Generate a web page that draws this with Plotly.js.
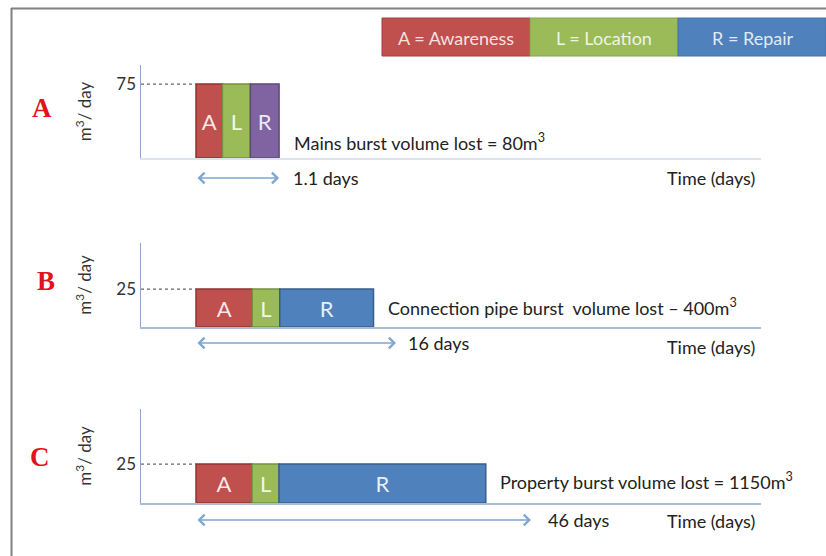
<!DOCTYPE html>
<html>
<head>
<meta charset="utf-8">
<script src="https://cdn.plot.ly/plotly-3.0.1.min.js"></script>
<style>html,body{margin:0;padding:0;background:#fff;}#chart{width:826px;height:556px;}</style>
</head>
<body>
<div id="chart"></div>
<script>
// ---- data ----
const panels = ["A", "B", "C"];
const phases = ["A", "L", "R"];
const phaseNames = ["Awareness", "Location", "Repair"];
const rates = [75, 25, 25];                 // m3/day
const durA = [0.35, 0.37, 0.38];            // days (schematic) panel A
const durB = [4.5, 2.2, 7.5];               // panel B
const durC = [7.7, 3.7, 28.4];              // panel C
const totalDays = [1.1, 16, 46];
const volumeLost = [80, 400, 1150];
const burstTypes = ["Mains burst volume lost = ", "Connection pipe burst  volume lost \u2013 ", "Property burst volume lost = "];

// ---- helpers ----
const W = 826, H = 556;
const px = x => x / W;
const py = y => 1 - y / H;
const font = "Lato, 'Open Sans', sans-serif";

const phaseColors = [["#c0504d", "#9bbb59", "#8064a2"], ["#c0504d", "#9bbb59", "#4f81bd"], ["#c0504d", "#9bbb59", "#4f81bd"]];
const phaseLines = [["#8e3533", "#76913f", "#5e4878"], ["#8e3533", "#76913f", "#385d8a"], ["#8e3533", "#76913f", "#385d8a"]];
const durs = [durA, durB, durC];
const xRanges = [[-0.728, 7.48], [-4.4, 45.2], [-7.555, 77.6]];
const yTops = [94.3, 55.3, 60.3];
const yDomPx = [[158, 65], [327, 243], [503, 409]];
const baseColors = ["#dde3ec", "#a9bcd9", "#a9bcd9"];

const traces = [];
const layout = {
  width: W, height: H, margin: {l: 0, r: 0, t: 0, b: 0},
  paper_bgcolor: "#fff", plot_bgcolor: "rgba(0,0,0,0)",
  showlegend: false, font: {family: font, color: "#333"},
  shapes: [], annotations: []
};

function note(x, y, text, size, opts) {
  return Object.assign({xref: "paper", yref: "paper", x: px(x), y: py(y), text: text,
    showarrow: false, xanchor: "left", yanchor: "middle",
    font: {family: font, size: size, color: "#222"}}, opts || {});
}

panels.forEach((p, i) => {
  const sx = i === 0 ? "" : String(i + 1);
  const d = durs[i];
  const starts = [];
  let acc = 0;
  d.forEach(v => { starts.push(acc); acc += v; });
  traces.push({
    type: "bar", xaxis: "x" + sx, yaxis: "y" + sx,
    x: starts, y: d.map(() => rates[i]), width: d, offset: 0,
    marker: {color: phaseColors[i], line: {color: phaseLines[i], width: 1.5}},
    text: phases, textposition: "inside", insidetextanchor: "middle",
    constraintext: "none",
    textfont: {family: font, size: 22, color: "rgba(255,255,255,0.88)"},
    hoverinfo: "skip", name: p
  });
  layout["xaxis" + sx] = {
    domain: [px(141), px(761)], range: xRanges[i], anchor: "y" + sx,
    showline: true, linecolor: baseColors[i], linewidth: 1.5,
    showgrid: false, zeroline: false, showticklabels: false, ticks: "", fixedrange: true
  };
  layout["yaxis" + sx] = {
    domain: [py(yDomPx[i][0]), py(yDomPx[i][1])], range: [0, yTops[i]], anchor: "x" + sx,
    showline: true, linecolor: "#8ea7c9", linewidth: 1.5,
    showgrid: false, zeroline: false, ticks: "",
    tickvals: [rates[i]], ticktext: [String(rates[i])],
    tickfont: {family: font, size: 17, color: "#333"},
    title: {text: "m<sup>3</sup>/ day", standoff: 20, font: {family: font, size: 17, color: "#333"}},
    fixedrange: true
  };
  // dotted guide line at rate level
  layout.shapes.push({type: "line", xref: "x" + sx, yref: "y" + sx,
    x0: xRanges[i][0], x1: 0, y0: rates[i], y1: rates[i],
    line: {color: "#666", width: 1.3, dash: "dot"}});
  // panel letter
  const letterY = [108, 281, 457][i];
  const letterX = [42, 46, 40][i];
  layout.annotations.push(note(letterX, letterY, "<b>" + p + "</b>", 27, {xanchor: "center",
    font: {family: "'Liberation Serif', 'Times New Roman', serif", size: 27, color: "#e3121b"}}));
  // volume lost text
  const volPos = [[292, 142], [386, 307], [498, 481]][i];
  layout.annotations.push(note(volPos[0], volPos[1], burstTypes[i] + volumeLost[i] + "m<sup>3</sup>", 18));
  // duration arrow
  const arrY = [178, 343, 520][i];
  layout.annotations.push({xref: "x" + sx, yref: "paper", x: totalDays[i], y: py(arrY),
    axref: "x" + sx, ayref: "pixel", ax: 0, ay: 0, text: "", showarrow: true,
    arrowhead: 4, startarrowhead: 4, arrowside: "end+start", arrowsize: 1.4, startarrowsize: 1.4,
    arrowwidth: 1.5, arrowcolor: "#7ea6d1", standoff: 0, startstandoff: 0});
  // days label
  const dayX = [291, 406, 546][i];
  layout.annotations.push(note(dayX, arrY, totalDays[i] + " days", 18));
  // time label
  const tY = [178, 347, 521][i];
  layout.annotations.push(note(757, tY, "Time (days)", 18, {xanchor: "right"}));
});

// frame lines
layout.shapes.push({type: "line", xref: "paper", yref: "paper", x0: px(11.5), x1: px(11.5), y0: py(8), y1: 0,
  line: {color: "#808080", width: 2}});
layout.shapes.push({type: "line", xref: "paper", yref: "paper", x0: px(11), x1: 1, y0: py(8.5), y1: py(8.5),
  line: {color: "#808080", width: 2}});

// legend boxes
const legColors = ["#c0504d", "#9bbb59", "#4f81bd"];
const legLines = ["#a33f3c", "#86a44a", "#4473ab"];
const legX = [382, 530, 678, 826];
phases.forEach((ph, k) => {
  layout.shapes.push({type: "rect", xref: "paper", yref: "paper",
    x0: px(legX[k]), x1: px(legX[k + 1]), y0: py(56), y1: py(18),
    fillcolor: legColors[k], line: {color: legLines[k], width: 1}});
  layout.annotations.push(note((legX[k] + legX[k + 1]) / 2, 38, ph + " = " + phaseNames[k], 18,
    {xanchor: "center", font: {family: font, size: 18, color: "rgba(255,255,255,0.85)"}}));
});

Plotly.newPlot("chart", traces, layout, {displayModeBar: false, staticPlot: true});
</script>
</body>
</html>
